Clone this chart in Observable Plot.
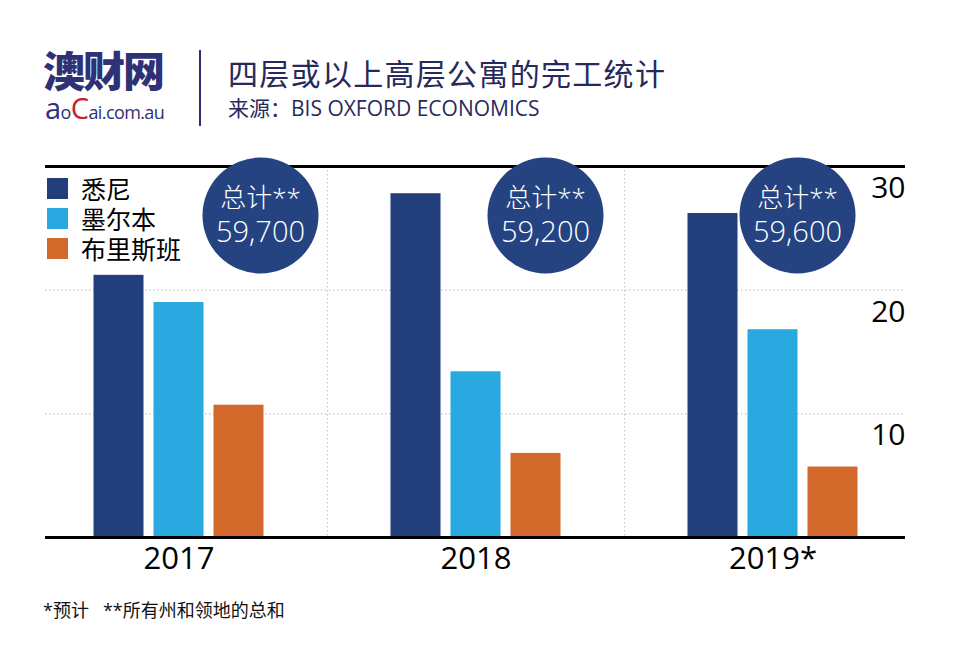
<!DOCTYPE html>
<html>
<head>
<meta charset="utf-8">
<script src="https://cdn.jsdelivr.net/npm/d3@7"></script>
<script src="https://cdn.jsdelivr.net/npm/@observablehq/plot@0.6"></script>
<style>
  body { margin: 0; background: #fff; font-family: "Open Sans", "Noto Sans CJK SC", sans-serif; }
  #page { position: relative; width: 960px; height: 660px; overflow: hidden; }
  .abs { position: absolute; white-space: nowrap; }
</style>
</head>
<body>
<div id="page">
  <div class="abs" style="left:43px; top:47px; font-family:'Noto Sans CJK SC'; font-weight:900; font-size:42px; line-height:44px; height:44px; color:#2e3175; letter-spacing:-2px;">澳财网</div>
  <div class="abs" style="left:45px; top:95px; line-height:26px; height:26px; color:#2e3175; font-family:'Open Sans'; letter-spacing:-0.6px;"><span style="font-size:29px;">a</span><span style="font-size:18px;">o</span><span style="font-size:29px; color:#c8202f;">C</span><span style="font-size:18px;">ai.com.au</span></div>
  <div class="abs" style="left:199px; top:50px; width:2px; height:76px; background:#2e3175;"></div>
  <div class="abs" style="left:228px; top:52px; font-family:'Noto Sans CJK SC'; font-size:30px; line-height:40px; color:#27295a; letter-spacing:1.3px;">四层或以上高层公寓的完工统计</div>
  <div class="abs" style="left:228px; top:95px; font-size:21px; line-height:26px; color:#27295a;">来源：BIS OXFORD ECONOMICS</div>
  <div id="chart" class="abs" style="left:0; top:150px;"></div>
  <div id="legend" class="abs" style="left:47px; top:173px;"></div>
  <div class="abs" style="left:43px; top:598px; font-size:18px; line-height:24px; color:#111;">*预计&nbsp;&nbsp;&nbsp;**所有州和领地的总和</div>
</div>
<script>
// ---- data ----
const years = ["2017", "2018", "2019*"];
const cities = ["悉尼", "墨尔本", "布里斯班"];
const sydney = [21.2, 27.8, 26.2];
const melbourne = [19.0, 13.4, 16.8];
const brisbane = [10.7, 6.8, 5.7];
const totals = [59700, 59200, 59600];
const yTicks = [10, 20, 30];

// ---- styles ----
const colors = ["#233f7b", "#2aa8e0", "#d2692a"];
const circleFill = "#244380";
const circleDx = [81.5, 69.5, 24.5];
const barDx = [-60, 0, 60];

const seriesList = [sydney, melbourne, brisbane];
const table = years.flatMap((yr, i) => cities.map((c, j) => ({year: yr, city: c, value: seriesList[j][i]})));
const totalTable = years.map((yr, i) => ({year: yr, total: totals[i]}));
const fmt = d3.format(",");

const grid = {stroke: "#c4c4c4", strokeWidth: 1.2, strokeDasharray: "1.5,2.5"};

const marks = [
  Plot.ruleY([10, 20], grid),
  Plot.ruleX(years.slice(1), {...grid, dx: -148.5}),
  ...cities.map((c, j) => Plot.barY(table.filter(d => d.city === c), {
    x: "year", y: "value", fill: "city", dx: barDx[j], insetLeft: 123.5, insetRight: 123.5
  })),
  Plot.ruleY([30], {stroke: "#000", strokeWidth: 3}),
  Plot.ruleY([0], {stroke: "#000", strokeWidth: 3}),
  ...totalTable.flatMap((d, i) => [
    Plot.dot([d], {x: "year", r: 58, fill: circleFill, frameAnchor: "top", dy: 49, dx: circleDx[i]}),
    Plot.text([d], {x: "year", text: () => "总计**", frameAnchor: "top", dy: 32, dx: circleDx[i], fill: "#fff", fontSize: 26, fontWeight: 300, lineAnchor: "middle"}),
    Plot.text([d], {x: "year", text: e => fmt(e.total), frameAnchor: "top", dy: 66, dx: circleDx[i], fill: "#fff", fontSize: 29, fontWeight: 300, lineAnchor: "middle"})
  ]),
  Plot.axisX({tickSize: 0, tickPadding: 9, fontSize: 31, fill: "#000", label: null}),
  Plot.axisY(yTicks, {anchor: "right", tickSize: 0, tickPadding: 0, textAnchor: "end", dy: 22, fontSize: 30, fill: "#000", label: null})
];

const chart = Plot.plot({
  width: 960,
  height: 440,
  marginTop: 16,
  marginBottom: 53,
  marginLeft: 45,
  marginRight: 55,
  style: {fontFamily: "'Open Sans','Noto Sans CJK SC',sans-serif", background: "transparent", overflow: "visible"},
  x: {type: "band", domain: years, range: [30, 921], padding: 0, label: null},
  y: {domain: [0, 30], label: null},
  color: {domain: cities, range: colors},
  marks
});
document.getElementById("chart").appendChild(chart);

// legend from the same colour scale
const scale = chart.scale("color");
const legend = document.getElementById("legend");
cities.forEach(c => {
  const row = document.createElement("div");
  row.style.cssText = "display:flex; align-items:center; height:30px;";
  const sw = document.createElement("div");
  sw.style.cssText = `width:21px; height:21px; background:${scale.apply(c)}; margin-right:13px;`;
  const tx = document.createElement("div");
  tx.textContent = c;
  tx.style.cssText = "font-family:'Noto Sans CJK SC'; font-size:25px; line-height:30px; color:#000;";
  row.appendChild(sw); row.appendChild(tx);
  legend.appendChild(row);
});
</script>
</body>
</html>
